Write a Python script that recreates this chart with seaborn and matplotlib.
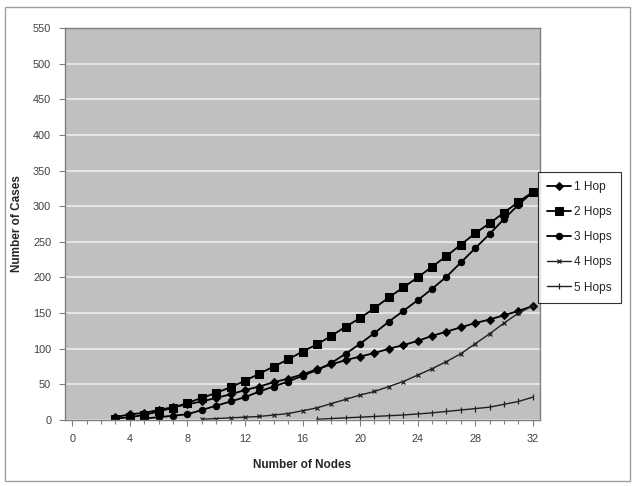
import numpy as np
import pandas as pd
import matplotlib
matplotlib.use('Agg')
import matplotlib.pyplot as plt
from matplotlib.patches import Rectangle
from matplotlib.ticker import MultipleLocator
import seaborn as sns

# values (number of nodes -> number of cases)
hop1_start = 3
hop1 = [4, 8, 10, 14, 18, 22, 26, 31, 36, 42, 47, 53, 58, 64, 71, 78, 84, 89,
        94, 100, 105, 111, 118, 124, 130, 136, 141, 147, 153, 160]
hop2_start = 3
hop2 = [2, 4, 7, 12, 17, 24, 31, 38, 46, 55, 65, 75, 85, 96, 106, 118, 131,
        143, 157, 172, 186, 200, 215, 230, 246, 262, 276, 291, 306, 320]
hop3_start = 5
hop3 = [2, 4, 6, 8, 14, 20, 26, 32, 40, 47, 54, 62, 70, 80, 93, 107, 122, 138,
        153, 168, 184, 201, 221, 241, 261, 282, 302, 320]
hop4_start = 9
hop4 = [1, 2, 3, 4, 5, 7, 9, 13, 17, 23, 29, 35, 40, 47, 54, 63, 72, 82, 93,
        107, 121, 136, 150, 160]
hop5_start = 17
hop5 = [1, 2, 3, 4, 5, 6, 7, 8.5, 10, 12, 14, 16, 18, 22, 26, 32]

series_names = ['1 Hop', '2 Hops', '3 Hops', '4 Hops', '5 Hops']
x_ticks = [0, 4, 8, 12, 16, 20, 24, 28, 32]
y_ticks = list(range(0, 551, 50))

frames = []
for name, start, vals in zip(series_names,
                             [hop1_start, hop2_start, hop3_start, hop4_start, hop5_start],
                             [hop1, hop2, hop3, hop4, hop5]):
    frames.append(pd.DataFrame({'nodes': np.arange(start, start + len(vals)),
                                'cases': vals, 'series': name}))
df = pd.concat(frames, ignore_index=True)

sns.set_theme(style='white')
plt.rcParams['font.family'] = ['Liberation Sans', 'DejaVu Sans']

fig = plt.figure(figsize=(6.35, 4.86), dpi=100)
ax = fig.add_axes([0.1024, 0.1358, 0.7480, 0.8066])
ax.set_facecolor('#C0C0C0')

styles = {
    '1 Hop': dict(marker='D', markersize=4.2, linewidth=1.3, color='black'),
    '2 Hops': dict(marker='s', markersize=5.5, linewidth=1.3, color='black'),
    '3 Hops': dict(marker='o', markersize=4.6, linewidth=1.3, color='black'),
    '4 Hops': dict(marker='x', markersize=3.5, linewidth=1.0, color='#202020', markeredgewidth=0.9),
    '5 Hops': dict(marker='|', markersize=4.5, linewidth=1.0, color='#202020', markeredgewidth=0.9),
}
for name in series_names:
    sub = df[df['series'] == name]
    sns.lineplot(data=sub, x='nodes', y='cases', ax=ax, label=name,
                 markeredgecolor=styles[name]['color'], **styles[name])

ax.set_xlim(-0.5, 32.5)
ax.set_ylim(0, 550)
ax.set_xticks(x_ticks)
ax.xaxis.set_minor_locator(MultipleLocator(1))
ax.set_yticks(y_ticks)
ax.yaxis.grid(True, color='#E8E8E8', linewidth=1.3)
ax.set_axisbelow(True)
for s in ax.spines.values():
    s.set_color('#808080')
    s.set_linewidth(1.0)
ax.tick_params(axis='both', which='major', direction='out', length=4, width=0.8,
               color='#808080', labelsize=7.8, labelcolor='#404040', pad=6, bottom=True, left=True)
ax.tick_params(axis='x', which='minor', direction='out', length=3, width=0.8,
               color='#808080', bottom=True)

ax.set_xlabel('Number of Nodes', fontsize=8.5, fontweight='bold', labelpad=11)
ax.set_ylabel('Number of Cases', fontsize=8.5, fontweight='bold', labelpad=7)

leg = ax.legend(loc='upper left', bbox_to_anchor=(0.847, 0.646),
                bbox_transform=fig.transFigure, frameon=True, fancybox=False,
                fontsize=8.6, handlelength=2.0, labelspacing=1.1, borderpad=0.75,
                handletextpad=0.3, borderaxespad=0)
leg.get_frame().set_edgecolor('black')
leg.get_frame().set_linewidth(0.8)

fig.patches.append(Rectangle((0.008, 0.01), 0.984, 0.975, transform=fig.transFigure,
                             fill=False, edgecolor='#A0A0A0', linewidth=1.0))

fig.savefig('out.png', dpi=100)
